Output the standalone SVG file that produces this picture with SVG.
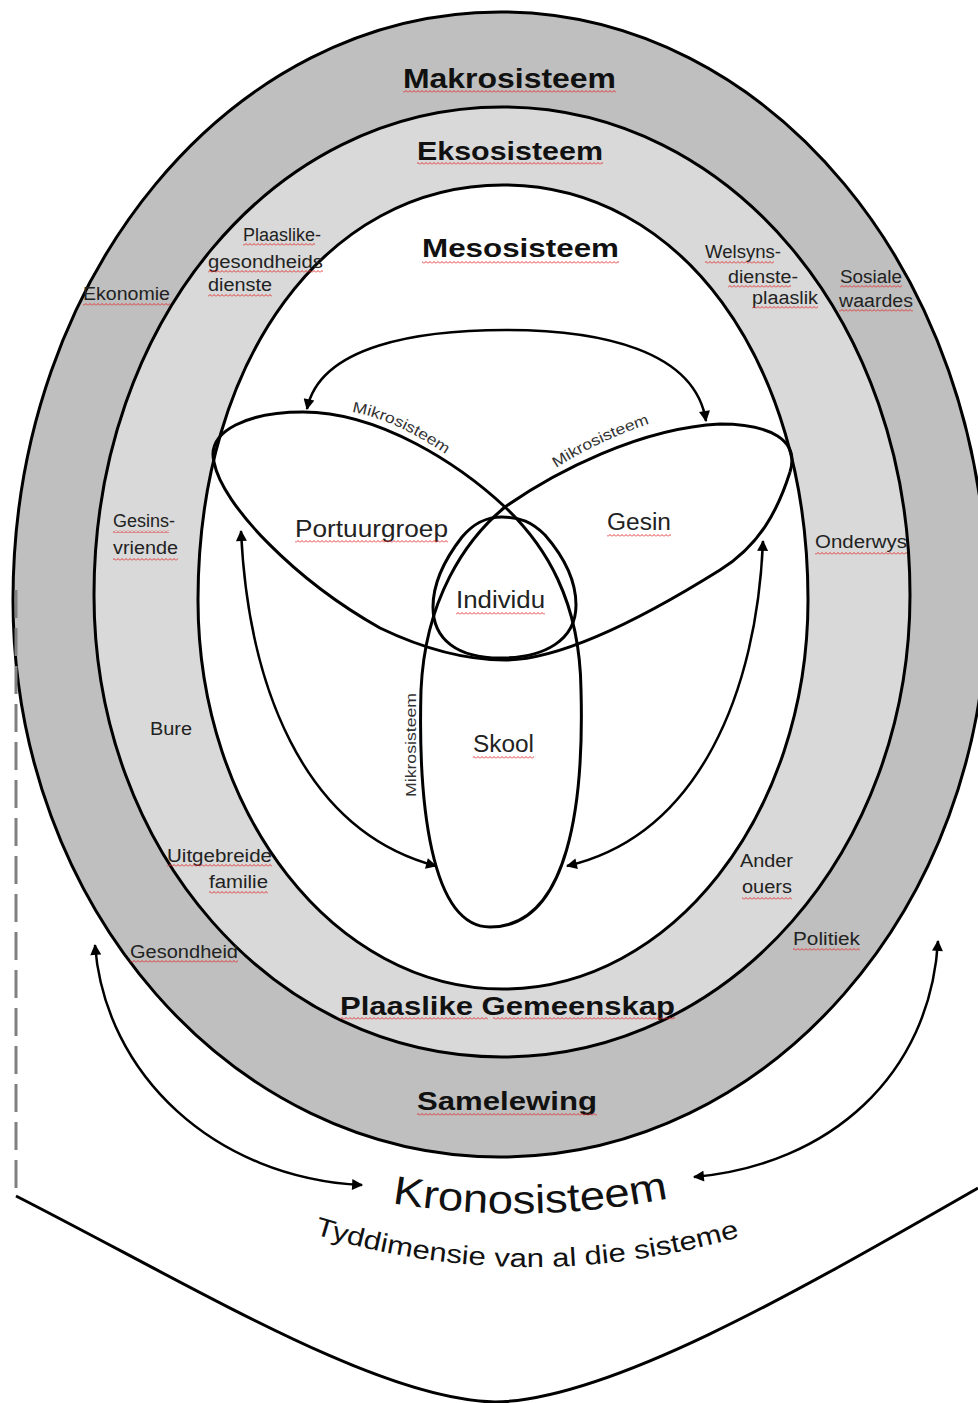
<svg xmlns="http://www.w3.org/2000/svg" width="978" height="1403" viewBox="0 0 978 1403">
<style>
.ring{stroke:#000;stroke-width:3}
.ln{fill:none;stroke:#000;stroke-width:3}
.ar{fill:none;stroke:#000;stroke-width:2.5;marker-start:url(#ah);marker-end:url(#ah)}
.h{font-family:"Liberation Sans",Arial,sans-serif;font-weight:bold;fill:#111}
.s{font-family:"Liberation Sans",Arial,sans-serif;font-size:18px;fill:#222}
.v{font-family:"Liberation Sans",Arial,sans-serif;font-size:23px;fill:#222}
.m{font-family:"Liberation Sans",Arial,sans-serif;font-size:15px;fill:#333}
.k{font-family:"Liberation Sans",Arial,sans-serif;fill:#111}
.sq{fill:url(#wv)}
</style>
<defs>
<pattern id="wv" width="4" height="3" patternUnits="userSpaceOnUse"><path d="M0,2.5 L2,0.5 L4,2.5" fill="none" stroke="#e02828" stroke-width="0.9"/></pattern>
<marker id="ah" viewBox="0 0 10 10" refX="9" refY="5" markerWidth="13" markerHeight="11" markerUnits="userSpaceOnUse" orient="auto-start-reverse"><path d="M0,0 L10,5 L0,10 z" fill="#000"/></marker>
<path id="pm1" d="M 352,412 Q 398,420 451,458"/>
<path id="pm2" d="M 556,468 Q 600,440 654,422"/>
<path id="pkr" d="M 392,1203 Q 530,1226 670,1198"/>
<path id="pty" d="M 314,1234 Q 522,1298 736,1238"/>
</defs>
<rect width="978" height="1403" fill="#fff"/>

<g id="makrosisteem">
<path class="ring" fill="#bfbfbf" d="M 500,12 C 769,12 987,275 987,600 C 987,907 769,1157 500,1157 C 231,1157 13,907 13,600 C 13,275 231,12 500,12 Z"/>
</g>
<g id="eksosisteem">
<path class="ring" fill="#d9d9d9" d="M 502,107 C 731,107 910,322 910,595 C 910,850 731,1057 502,1057 C 273,1057 94,850 94,595 C 94,322 273,107 502,107 Z"/>
</g>
<g id="mesosisteem">
<path class="ring" fill="#ffffff" d="M 503,185 C 680,185 808,359 808,600 C 808,815 671,989 503,989 C 335,989 198,815 198,600 C 198,359 326,185 503,185 Z"/>
</g>

<g id="kronosisteem-rand">
<line x1="16" y1="590" x2="16" y2="1196" stroke="#808080" stroke-width="3" stroke-dasharray="28 10"/>
<path class="ln" stroke-width="2.5" d="M 16,1196 C 200,1290 380,1400 495,1402 C 610,1400 800,1290 978,1188"/>
</g>

<g id="venn">
<path id="portuurgroep-skool" class="ln" d="M 214,462 C 206,430 250,412 303,412 C 380,412 460,465 505,507 C 545,545 580,600 581,690 C 584,800 570,927 490,927"/>
<path id="gesin-skool" class="ln" d="M 790,472 C 800,440 770,424 720,424 C 640,428 555,472 505,507 C 465,540 425,600 421,690 C 418,800 430,927 490,927"/>
<path id="onderkant" class="ln" d="M 214,462 C 222,505 295,580 380,628 C 430,652 470,660 505,660 C 560,660 640,620 720,570 C 760,545 778,510 790,472"/>
<path id="individu" class="ln" d="M 502,517 C 520,517 532,522 545,535 C 565,558 576,580 576,605 C 576,640 545,658 500,658 C 458,658 433,640 433,607 C 433,580 448,555 462,537 C 474,523 486,517 502,517 Z"/>
</g>

<g id="connectors">
<path class="ar" d="M 307,409 C 320,345 420,330 506,330 C 600,330 695,350 706,421"/>
<path class="ar" d="M 241,531 C 248,680 300,830 436,866"/>
<path class="ar" d="M 763,541 C 757,690 700,835 567,866"/>
<path class="ar" d="M 95,945 C 105,1075 215,1178 362,1185"/>
<path class="ar" d="M 938,941 C 930,1075 830,1165 694,1177"/>
</g>

<g id="labels-headings">
<text class="h" x="403" y="88" font-size="28" textLength="213" lengthAdjust="spacingAndGlyphs">Makrosisteem</text>
<rect class="sq" x="403" y="90" width="213" height="3"/>
<text class="h" x="417" y="160" font-size="25" textLength="186" lengthAdjust="spacingAndGlyphs">Eksosisteem</text>
<rect class="sq" x="417" y="162" width="186" height="3"/>
<text class="h" x="422" y="257" font-size="26" textLength="197" lengthAdjust="spacingAndGlyphs">Mesosisteem</text>
<rect class="sq" x="422" y="261" width="197" height="3"/>
<text class="h" x="340" y="1015" font-size="26" textLength="335" lengthAdjust="spacingAndGlyphs">Plaaslike Gemeenskap</text>
<rect class="sq" x="340" y="1017" width="148" height="3"/>
<rect class="sq" x="493" y="1017" width="182" height="3"/>
<text class="h" x="417" y="1110" font-size="26" textLength="180" lengthAdjust="spacingAndGlyphs">Samelewing</text>
<rect class="sq" x="417" y="1113" width="180" height="3"/>
</g>

<g id="labels-makro">
<text class="s" x="83" y="300" textLength="87" lengthAdjust="spacingAndGlyphs">Ekonomie</text>
<rect class="sq" x="83" y="303" width="87" height="3"/>
<text class="s" x="840" y="283" textLength="62" lengthAdjust="spacingAndGlyphs">Sosiale</text>
<rect class="sq" x="840" y="285" width="62" height="3"/>
<text class="s" x="839" y="307" textLength="74" lengthAdjust="spacingAndGlyphs">waardes</text>
<rect class="sq" x="839" y="309" width="74" height="3"/>
<text class="s" x="130" y="958" textLength="108" lengthAdjust="spacingAndGlyphs">Gesondheid</text>
<rect class="sq" x="130" y="960" width="108" height="3"/>
<text class="s" x="793" y="945" textLength="67" lengthAdjust="spacingAndGlyphs">Politiek</text>
<rect class="sq" x="793" y="948" width="67" height="3"/>
</g>

<g id="labels-ekso">
<text class="s" x="243" y="241" textLength="78" lengthAdjust="spacingAndGlyphs">Plaaslike-</text>
<rect class="sq" x="243" y="243" width="72" height="3"/>
<text class="s" x="208" y="268" textLength="115" lengthAdjust="spacingAndGlyphs">gesondheids</text>
<rect class="sq" x="208" y="270" width="115" height="3"/>
<text class="s" x="208" y="291" textLength="64" lengthAdjust="spacingAndGlyphs">dienste</text>
<rect class="sq" x="208" y="294" width="64" height="3"/>
<text class="s" x="705" y="258" textLength="76" lengthAdjust="spacingAndGlyphs">Welsyns-</text>
<rect class="sq" x="705" y="261" width="69" height="3"/>
<text class="s" x="728" y="283" textLength="70" lengthAdjust="spacingAndGlyphs">dienste-</text>
<rect class="sq" x="728" y="285" width="63" height="3"/>
<text class="s" x="752" y="304" textLength="66" lengthAdjust="spacingAndGlyphs">plaaslik</text>
<rect class="sq" x="752" y="306" width="66" height="3"/>
<text class="s" x="113" y="527" textLength="62" lengthAdjust="spacingAndGlyphs">Gesins-</text>
<rect class="sq" x="113" y="530" width="56" height="3"/>
<text class="s" x="113" y="554" textLength="65" lengthAdjust="spacingAndGlyphs">vriende</text>
<rect class="sq" x="113" y="558" width="65" height="3"/>
<text class="s" x="150" y="735" textLength="42" lengthAdjust="spacingAndGlyphs">Bure</text>
<text class="s" x="167" y="862" textLength="105" lengthAdjust="spacingAndGlyphs">Uitgebreide</text>
<rect class="sq" x="167" y="864" width="105" height="3"/>
<text class="s" x="209" y="888" textLength="59" lengthAdjust="spacingAndGlyphs">familie</text>
<rect class="sq" x="209" y="891" width="59" height="3"/>
<text class="s" x="815" y="548" textLength="92" lengthAdjust="spacingAndGlyphs">Onderwys</text>
<rect class="sq" x="815" y="552" width="92" height="3"/>
<text class="s" x="740" y="867" textLength="53" lengthAdjust="spacingAndGlyphs">Ander</text>
<text class="s" x="742" y="893" textLength="50" lengthAdjust="spacingAndGlyphs">ouers</text>
<rect class="sq" x="742" y="897" width="50" height="3"/>
</g>

<g id="labels-mikro">
<text class="v" x="295" y="537" textLength="153" lengthAdjust="spacingAndGlyphs">Portuurgroep</text>
<rect class="sq" x="295" y="540" width="153" height="3"/>
<text class="v" x="607" y="530" textLength="64" lengthAdjust="spacingAndGlyphs">Gesin</text>
<rect class="sq" x="607" y="534" width="64" height="3"/>
<text class="v" x="456" y="608" textLength="89" lengthAdjust="spacingAndGlyphs">Individu</text>
<rect class="sq" x="456" y="612" width="89" height="3"/>
<text class="v" x="473" y="752" textLength="61" lengthAdjust="spacingAndGlyphs">Skool</text>
<rect class="sq" x="473" y="756" width="61" height="3"/>
<text class="m"><textPath href="#pm1" textLength="104" lengthAdjust="spacingAndGlyphs">Mikrosisteem</textPath></text>
<text class="m" fill="#555"><textPath href="#pm2" textLength="104" lengthAdjust="spacingAndGlyphs">Mikrosisteem</textPath></text>
<text class="m" transform="translate(416,745) rotate(-90)" text-anchor="middle" textLength="104" lengthAdjust="spacingAndGlyphs">Mikrosisteem</text>
</g>

<g id="labels-krono">
<text class="k" font-size="40"><textPath href="#pkr" textLength="278" lengthAdjust="spacingAndGlyphs">Kronosisteem</textPath></text>
<text class="k" font-size="26"><textPath href="#pty" textLength="432" lengthAdjust="spacingAndGlyphs">Tyddimensie van al die sisteme</textPath></text>
</g>
</svg>
